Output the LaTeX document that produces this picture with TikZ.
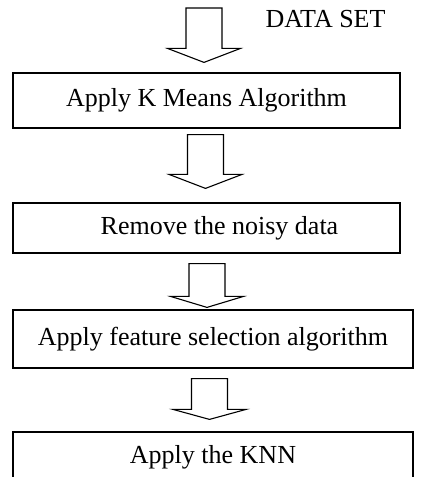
\documentclass[tikz,border=0pt]{standalone}
\usepackage{fontspec}
\setmainfont{Liberation Serif}
\usepackage{tikz}
\usetikzlibrary{positioning}
\usetikzlibrary{calc}

% hollow block arrow: top centre, tip, head length
\newcommand{\blockarrow}[3]{%
\draw[arrowline] ($(#1)+(-18,0)$) -- ($(#2)+(-18,#3)$) -- ($(#2)+(-36.5,#3)$) -- (#2)
  -- ($(#2)+(36.5,#3)$) -- ($(#2)+(18,#3)$) -- ($(#1)+(18,0)$) -- cycle;}

\begin{document}
\begin{tikzpicture}[x=1pt, y=1pt,
  stepbox/.style = {draw, line width=1.2pt, inner sep=0pt, font=\fontsize{26}{30}\selectfont},
  arrowline/.style = {draw, line width=1.1pt, line join=miter}]
\useasboundingbox (0,0) rectangle (424,-477);

\node[font=\fontsize{26}{30}\selectfont, anchor=base] (data) at (325.5,-27) {DATA SET};

\node[stepbox, minimum width=387, minimum height=55] (kmeans) at (206.5,-100.5) {Apply K Means Algorithm};
\node[stepbox, minimum width=387, minimum height=50] (noise) at (206.5,-228) {\hspace{26pt}Remove the noisy data};
\node[stepbox, minimum width=400, minimum height=58] (feature) at (213,-339) {Apply feature selection algorithm};
\node[stepbox, minimum width=400, minimum height=50] (knn) at (213,-457) {Apply the KNN};

\coordinate (in) at (204,-8);
\coordinate (tip1) at ($(kmeans.north)+(-2.5,10)$);
\coordinate (top2) at ($(kmeans.south)+(-1,-6)$);
\coordinate (tip2) at ($(noise.north)+(-1,14)$);
\coordinate (top3) at ($(noise.south)+(0.5,-10)$);
\coordinate (tip3) at ($(feature.north)+(-6,2)$);
\coordinate (top4) at ($(feature.south)+(-3.5,-10)$);
\coordinate (tip4) at ($(knn.north)+(-3.5,12)$);

\blockarrow{in}{tip1}{14}
\blockarrow{top2}{tip2}{14}
\blockarrow{top3}{tip3}{11}
\blockarrow{top4}{tip4}{10}
\end{tikzpicture}
\end{document}
